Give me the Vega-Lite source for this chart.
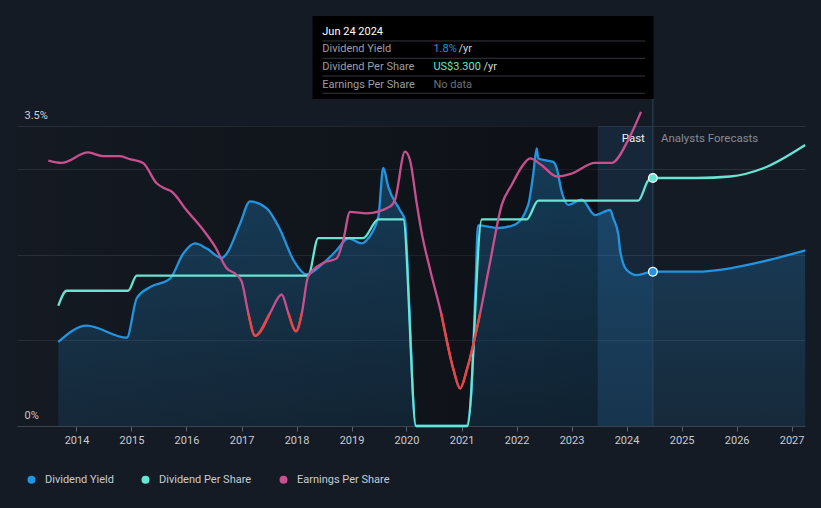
{
  "$schema": "https://vega.github.io/schema/vega-lite/v6.json",
  "width": 788,
  "height": 300,
  "autosize": "none",
  "padding": {"left": 17, "top": 126, "right": 16, "bottom": 82},
  "background": "#151b24",
  "config": {"view": {"stroke": null}, "font": "Roboto"},
  "datasets": {
    "series": [
      {"series": "Dividend Yield", "date": "2013-09-02", "value": 0.98},
      {"series": "Dividend Yield", "date": "2014-03-09", "value": 1.17},
      {"series": "Dividend Yield", "date": "2014-12-01", "value": 1.03},
      {"series": "Dividend Yield", "date": "2015-02-05", "value": 1.49},
      {"series": "Dividend Yield", "date": "2015-05-04", "value": 1.62},
      {"series": "Dividend Yield", "date": "2015-09-14", "value": 1.72},
      {"series": "Dividend Yield", "date": "2015-12-10", "value": 2.01},
      {"series": "Dividend Yield", "date": "2016-02-27", "value": 2.13},
      {"series": "Dividend Yield", "date": "2016-05-15", "value": 2.07},
      {"series": "Dividend Yield", "date": "2016-08-22", "value": 1.96},
      {"series": "Dividend Yield", "date": "2016-09-24", "value": 2.01},
      {"series": "Dividend Yield", "date": "2016-12-22", "value": 2.36},
      {"series": "Dividend Yield", "date": "2017-02-26", "value": 2.62},
      {"series": "Dividend Yield", "date": "2017-06-17", "value": 2.54},
      {"series": "Dividend Yield", "date": "2017-09-14", "value": 2.29},
      {"series": "Dividend Yield", "date": "2017-12-10", "value": 1.94},
      {"series": "Dividend Yield", "date": "2018-03-09", "value": 1.77},
      {"series": "Dividend Yield", "date": "2018-06-28", "value": 1.9},
      {"series": "Dividend Yield", "date": "2018-09-24", "value": 2.05},
      {"series": "Dividend Yield", "date": "2018-12-10", "value": 2.19},
      {"series": "Dividend Yield", "date": "2019-03-09", "value": 2.13},
      {"series": "Dividend Yield", "date": "2019-04-22", "value": 2.19},
      {"series": "Dividend Yield", "date": "2019-06-28", "value": 2.44},
      {"series": "Dividend Yield", "date": "2019-07-31", "value": 3.01},
      {"series": "Dividend Yield", "date": "2019-09-02", "value": 2.79},
      {"series": "Dividend Yield", "date": "2019-11-18", "value": 2.52},
      {"series": "Dividend Yield", "date": "2019-12-22", "value": 2.4},
      {"series": "Dividend Yield", "date": "2020-01-18", "value": 1.47},
      {"series": "Dividend Yield", "date": "2020-03-01", "value": 0},
      {"series": "Dividend Yield", "date": "2021-01-31", "value": 0},
      {"series": "Dividend Yield", "date": "2021-03-05", "value": 0.34},
      {"series": "Dividend Yield", "date": "2021-04-01", "value": 1.51},
      {"series": "Dividend Yield", "date": "2021-04-20", "value": 2.34},
      {"series": "Dividend Yield", "date": "2021-08-31", "value": 2.31},
      {"series": "Dividend Yield", "date": "2021-12-22", "value": 2.35},
      {"series": "Dividend Yield", "date": "2022-03-19", "value": 2.58},
      {"series": "Dividend Yield", "date": "2022-04-21", "value": 2.93},
      {"series": "Dividend Yield", "date": "2022-05-15", "value": 3.24},
      {"series": "Dividend Yield", "date": "2022-05-25", "value": 3.12},
      {"series": "Dividend Yield", "date": "2022-09-02", "value": 3.08},
      {"series": "Dividend Yield", "date": "2022-09-24", "value": 3.01},
      {"series": "Dividend Yield", "date": "2022-10-28", "value": 2.73},
      {"series": "Dividend Yield", "date": "2022-12-10", "value": 2.58},
      {"series": "Dividend Yield", "date": "2023-03-09", "value": 2.64},
      {"series": "Dividend Yield", "date": "2023-06-06", "value": 2.46},
      {"series": "Dividend Yield", "date": "2023-09-14", "value": 2.52},
      {"series": "Dividend Yield", "date": "2023-10-06", "value": 2.42},
      {"series": "Dividend Yield", "date": "2023-11-08", "value": 2.23},
      {"series": "Dividend Yield", "date": "2023-11-19", "value": 2.05},
      {"series": "Dividend Yield", "date": "2024-01-02", "value": 1.82},
      {"series": "Dividend Yield", "date": "2024-03-09", "value": 1.76},
      {"series": "Dividend Yield", "date": "2024-06-24", "value": 1.8},
      {"series": "Dividend Yield", "date": "2025-04-12", "value": 1.8},
      {"series": "Dividend Yield", "date": "2025-11-19", "value": 1.84},
      {"series": "Dividend Yield", "date": "2026-06-27", "value": 1.92},
      {"series": "Dividend Yield", "date": "2027-04-01", "value": 2.05},

      {"series": "Dividend Per Share", "date": "2013-09-02", "value": 1.6},
      {"series": "Dividend Per Share", "date": "2013-10-28", "value": 1.8},
      {"series": "Dividend Per Share", "date": "2014-12-10", "value": 1.8},
      {"series": "Dividend Per Share", "date": "2015-02-05", "value": 2.0},
      {"series": "Dividend Per Share", "date": "2018-03-19", "value": 2.0},
      {"series": "Dividend Per Share", "date": "2018-05-25", "value": 2.5},
      {"series": "Dividend Per Share", "date": "2019-03-19", "value": 2.5},
      {"series": "Dividend Per Share", "date": "2019-06-28", "value": 2.75},
      {"series": "Dividend Per Share", "date": "2019-12-10", "value": 2.75},
      {"series": "Dividend Per Share", "date": "2020-03-05", "value": 0},
      {"series": "Dividend Per Share", "date": "2021-02-09", "value": 0},
      {"series": "Dividend Per Share", "date": "2021-05-15", "value": 2.75},
      {"series": "Dividend Per Share", "date": "2022-03-09", "value": 2.75},
      {"series": "Dividend Per Share", "date": "2022-05-25", "value": 3.0},
      {"series": "Dividend Per Share", "date": "2024-03-19", "value": 3.0},
      {"series": "Dividend Per Share", "date": "2024-05-25", "value": 3.27},
      {"series": "Dividend Per Share", "date": "2024-06-24", "value": 3.3},
      {"series": "Dividend Per Share", "date": "2025-04-12", "value": 3.3},
      {"series": "Dividend Per Share", "date": "2025-11-19", "value": 3.32},
      {"series": "Dividend Per Share", "date": "2026-06-27", "value": 3.43},
      {"series": "Dividend Per Share", "date": "2027-04-01", "value": 3.74},

      {"series": "Earnings Per Share", "date": "2013-06-28", "value": 3.53},
      {"series": "Earnings Per Share", "date": "2013-09-24", "value": 3.5},
      {"series": "Earnings Per Share", "date": "2014-03-19", "value": 3.64},
      {"series": "Earnings Per Share", "date": "2014-06-28", "value": 3.59},
      {"series": "Earnings Per Share", "date": "2014-10-17", "value": 3.59},
      {"series": "Earnings Per Share", "date": "2014-12-22", "value": 3.55},
      {"series": "Earnings Per Share", "date": "2015-03-19", "value": 3.5},
      {"series": "Earnings Per Share", "date": "2015-06-17", "value": 3.23},
      {"series": "Earnings Per Share", "date": "2015-08-11", "value": 3.16},
      {"series": "Earnings Per Share", "date": "2015-09-24", "value": 3.12},
      {"series": "Earnings Per Share", "date": "2016-01-02", "value": 2.87},
      {"series": "Earnings Per Share", "date": "2016-04-21", "value": 2.61},
      {"series": "Earnings Per Share", "date": "2016-07-08", "value": 2.39},
      {"series": "Earnings Per Share", "date": "2016-09-24", "value": 2.1},
      {"series": "Earnings Per Share", "date": "2016-11-30", "value": 2.01},
      {"series": "Earnings Per Share", "date": "2017-01-02", "value": 1.92},
      {"series": "Earnings Per Share", "date": "2017-02-15", "value": 1.5, "dip": "a"},
      {"series": "Earnings Per Share", "date": "2017-04-01", "value": 1.2, "dip": "a"},
      {"series": "Earnings Per Share", "date": "2017-07-08", "value": 1.5, "dip": "a"},
      {"series": "Earnings Per Share", "date": "2017-09-24", "value": 1.75},
      {"series": "Earnings Per Share", "date": "2017-11-08", "value": 1.5, "dip": "b"},
      {"series": "Earnings Per Share", "date": "2017-12-29", "value": 1.26, "dip": "b"},
      {"series": "Earnings Per Share", "date": "2018-02-05", "value": 1.5, "dip": "b"},
      {"series": "Earnings Per Share", "date": "2018-03-19", "value": 1.99},
      {"series": "Earnings Per Share", "date": "2018-06-28", "value": 2.17},
      {"series": "Earnings Per Share", "date": "2018-09-24", "value": 2.23},
      {"series": "Earnings Per Share", "date": "2018-11-08", "value": 2.48},
      {"series": "Earnings Per Share", "date": "2018-12-22", "value": 2.85},
      {"series": "Earnings Per Share", "date": "2019-04-12", "value": 2.83},
      {"series": "Earnings Per Share", "date": "2019-09-14", "value": 2.92},
      {"series": "Earnings Per Share", "date": "2019-10-17", "value": 3.01},
      {"series": "Earnings Per Share", "date": "2019-12-22", "value": 3.65},
      {"series": "Earnings Per Share", "date": "2020-01-24", "value": 3.54},
      {"series": "Earnings Per Share", "date": "2020-03-09", "value": 2.96},
      {"series": "Earnings Per Share", "date": "2020-04-12", "value": 2.56},
      {"series": "Earnings Per Share", "date": "2020-06-06", "value": 2.08},
      {"series": "Earnings Per Share", "date": "2020-08-18", "value": 1.5, "dip": "c"},
      {"series": "Earnings Per Share", "date": "2020-11-08", "value": 0.75, "dip": "c"},
      {"series": "Earnings Per Share", "date": "2020-12-22", "value": 0.5, "dip": "c"},
      {"series": "Earnings Per Share", "date": "2021-02-05", "value": 0.75, "dip": "c"},
      {"series": "Earnings Per Share", "date": "2021-05-04", "value": 1.5, "dip": "c"},
      {"series": "Earnings Per Share", "date": "2021-07-08", "value": 2.17},
      {"series": "Earnings Per Share", "date": "2021-09-24", "value": 2.94},
      {"series": "Earnings Per Share", "date": "2021-11-30", "value": 3.21},
      {"series": "Earnings Per Share", "date": "2022-02-05", "value": 3.45},
      {"series": "Earnings Per Share", "date": "2022-04-01", "value": 3.56},
      {"series": "Earnings Per Share", "date": "2022-06-17", "value": 3.47},
      {"series": "Earnings Per Share", "date": "2022-09-24", "value": 3.32},
      {"series": "Earnings Per Share", "date": "2023-01-02", "value": 3.36},
      {"series": "Earnings Per Share", "date": "2023-06-06", "value": 3.5},
      {"series": "Earnings Per Share", "date": "2023-09-24", "value": 3.5},
      {"series": "Earnings Per Share", "date": "2024-01-13", "value": 3.81},
      {"series": "Earnings Per Share", "date": "2024-04-06", "value": 4.18}
    ]
  },
  "data": {"name": "series"},
  "layer": [
    {
      "layer": [
        {
          "data": {"values": [{}]},
          "mark": {"type": "rect", "fill": {"gradient": "linear", "x1": 0, "y1": 0, "x2": 1, "y2": 0, "stops": [{"offset": 0, "color": "rgba(0,0,0,0.05)"}, {"offset": 1, "color": "rgba(0,0,0,0.38)"}]}},
          "encoding": {
            "x": {"datum": {"year": 2012, "month": 12, "date": 2}, "type": "temporal", "scale": {"domain": [{"year": 2012, "month": 12, "date": 2}, {"year": 2027, "month": 3, "date": 31}]}, "title": null},
            "x2": {"datum": {"year": 2023, "month": 6, "date": 24}},
            "y": {"datum": 3.5, "type": "quantitative", "scale": {"domain": [0, 3.5]}, "title": null},
            "y2": {"datum": 0}
          }
        },
        {
          "data": {"values": [{}]},
          "mark": {"type": "rect", "color": "#1f5a90", "opacity": 0.2},
          "encoding": {
            "x": {"datum": {"year": 2023, "month": 6, "date": 24}, "type": "temporal", "scale": {"domain": [{"year": 2012, "month": 12, "date": 2}, {"year": 2027, "month": 3, "date": 31}]}, "title": null},
            "x2": {"datum": {"year": 2024, "month": 6, "date": 24}},
            "y": {"datum": 3.5, "type": "quantitative", "scale": {"domain": [0, 3.5]}, "title": null},
            "y2": {"datum": 0}
          }
        },
        {
          "transform": [{"filter": {"field": "series", "equal": "Dividend Yield"}}],
          "mark": {"type": "area", "interpolate": "monotone", "fill": {"gradient": "linear", "x1": 0, "y1": 1, "x2": 0, "y2": 0, "stops": [{"offset": 0, "color": "rgba(35,148,224,0.12)"}, {"offset": 1, "color": "rgba(35,148,224,0.32)"}]}},
          "encoding": {
            "x": {
              "field": "date", "type": "temporal", "title": null,
              "scale": {"domain": [{"year": 2012, "month": 12, "date": 2}, {"year": 2027, "month": 3, "date": 31}]},
              "axis": {
                "values": [{"year": 2014, "month": 1, "date": 1}, {"year": 2015, "month": 1, "date": 1}, {"year": 2016, "month": 1, "date": 1}, {"year": 2017, "month": 1, "date": 1}, {"year": 2018, "month": 1, "date": 1}, {"year": 2019, "month": 1, "date": 1}, {"year": 2020, "month": 1, "date": 1}, {"year": 2021, "month": 1, "date": 1}, {"year": 2022, "month": 1, "date": 1}, {"year": 2023, "month": 1, "date": 1}, {"year": 2024, "month": 1, "date": 1}, {"year": 2025, "month": 1, "date": 1}, {"year": 2026, "month": 1, "date": 1}, {"year": 2027, "month": 1, "date": 1}],
                "format": "%Y", "grid": false, "domainColor": "#3c4350", "tickColor": "#5b6370", "tickSize": 5,
                "labelColor": "#c8ccd2", "labelFontSize": 11, "labelFont": "Roboto", "labelPadding": 3, "labelFlush": false
              }
            },
            "y": {
              "field": "value", "type": "quantitative", "title": null,
              "scale": {"domain": [0, 3.5]},
              "axis": {
                "values": [0, 1, 2, 3, 3.5],
                "labelExpr": "datum.value == 0 ? '0%' : datum.value == 3.5 ? '3.5%' : ''",
                "grid": true, "gridColor": "#2b3039", "domain": false, "ticks": false, "tickSize": 0,
                "labelAlign": "left", "labelBaseline": "alphabetic", "labelPadding": -7, "labelOffset": -8,
                "labelColor": "#d0d4d8", "labelFontSize": 11, "labelFont": "Roboto"
              }
            }
          }
        },
        {
          "transform": [{"filter": {"field": "series", "equal": "Dividend Yield"}}],
          "mark": {"type": "line", "interpolate": "monotone", "strokeWidth": 2.3, "color": "#2394e0"},
          "encoding": {
            "x": {"field": "date", "type": "temporal", "title": null, "scale": {"domain": [{"year": 2012, "month": 12, "date": 2}, {"year": 2027, "month": 3, "date": 31}]}},
            "y": {"field": "value", "type": "quantitative", "title": null, "scale": {"domain": [0, 3.5]}}
          }
        },
        {
          "data": {"values": [{}]},
          "mark": {"type": "rule", "color": "#2a4660", "strokeWidth": 1},
          "encoding": {
            "x": {"datum": {"year": 2024, "month": 6, "date": 24}, "type": "temporal", "scale": {"domain": [{"year": 2012, "month": 12, "date": 2}, {"year": 2027, "month": 3, "date": 31}]}, "title": null},
            "y": {"datum": 3.815, "type": "quantitative", "scale": {"domain": [0, 3.5]}, "title": null},
            "y2": {"datum": 0}
          }
        },
        {
          "data": {"values": [{}]},
          "mark": {"type": "text", "text": "Past", "align": "right", "baseline": "alphabetic", "dx": -8, "fontSize": 11.5, "color": "#eef0f2"},
          "encoding": {
            "x": {"datum": {"year": 2024, "month": 6, "date": 24}, "type": "temporal", "scale": {"domain": [{"year": 2012, "month": 12, "date": 2}, {"year": 2027, "month": 3, "date": 31}]}, "title": null},
            "y": {"datum": 3.313, "type": "quantitative", "scale": {"domain": [0, 3.5]}, "title": null}
          }
        },
        {
          "data": {"values": [{}]},
          "mark": {"type": "text", "text": "Analysts Forecasts", "align": "left", "baseline": "alphabetic", "dx": 8, "fontSize": 11.5, "color": "#878c94"},
          "encoding": {
            "x": {"datum": {"year": 2024, "month": 6, "date": 24}, "type": "temporal", "scale": {"domain": [{"year": 2012, "month": 12, "date": 2}, {"year": 2027, "month": 3, "date": 31}]}, "title": null},
            "y": {"datum": 3.313, "type": "quantitative", "scale": {"domain": [0, 3.5]}, "title": null}
          }
        },
        {
          "data": {"values": [{}]},
          "mark": {"type": "rect", "color": "#000000"},
          "encoding": {
            "x": {"datum": {"year": 2018, "month": 4, "date": 17}, "type": "temporal", "scale": {"domain": [{"year": 2012, "month": 12, "date": 2}, {"year": 2027, "month": 3, "date": 31}]}, "title": null},
            "x2": {"datum": {"year": 2024, "month": 6, "date": 28}},
            "y": {"datum": 4.783, "type": "quantitative", "scale": {"domain": [0, 3.5]}, "title": null},
            "y2": {"datum": 3.815}
          }
        },
        {
          "data": {"values": [{}]},
          "mark": {"type": "rule", "color": "#34373c", "strokeWidth": 1},
          "encoding": {
            "x": {"datum": {"year": 2018, "month": 6, "date": 21}, "type": "temporal", "scale": {"domain": [{"year": 2012, "month": 12, "date": 2}, {"year": 2027, "month": 3, "date": 31}]}, "title": null},
            "x2": {"datum": {"year": 2024, "month": 5, "date": 4}},
            "y": {"datum": 4.492, "type": "quantitative", "scale": {"domain": [0, 3.5]}, "title": null}
          }
        },
        {
          "data": {"values": [{}]},
          "mark": {"type": "rule", "color": "#34373c", "strokeWidth": 1},
          "encoding": {
            "x": {"datum": {"year": 2018, "month": 6, "date": 21}, "type": "temporal", "scale": {"domain": [{"year": 2012, "month": 12, "date": 2}, {"year": 2027, "month": 3, "date": 31}]}, "title": null},
            "x2": {"datum": {"year": 2024, "month": 5, "date": 4}},
            "y": {"datum": 4.29, "type": "quantitative", "scale": {"domain": [0, 3.5]}, "title": null}
          }
        },
        {
          "data": {"values": [{}]},
          "mark": {"type": "rule", "color": "#34373c", "strokeWidth": 1},
          "encoding": {
            "x": {"datum": {"year": 2018, "month": 6, "date": 21}, "type": "temporal", "scale": {"domain": [{"year": 2012, "month": 12, "date": 2}, {"year": 2027, "month": 3, "date": 31}]}, "title": null},
            "x2": {"datum": {"year": 2024, "month": 5, "date": 4}},
            "y": {"datum": 4.083, "type": "quantitative", "scale": {"domain": [0, 3.5]}, "title": null}
          }
        },
        {
          "data": {"values": [{}]},
          "mark": {"type": "rule", "color": "#34373c", "strokeWidth": 1},
          "encoding": {
            "x": {"datum": {"year": 2018, "month": 6, "date": 21}, "type": "temporal", "scale": {"domain": [{"year": 2012, "month": 12, "date": 2}, {"year": 2027, "month": 3, "date": 31}]}, "title": null},
            "x2": {"datum": {"year": 2024, "month": 5, "date": 4}},
            "y": {"datum": 3.882, "type": "quantitative", "scale": {"domain": [0, 3.5]}, "title": null}
          }
        },
        {
          "data": {"values": [{}]},
          "mark": {"type": "text", "text": "Jun 24 2024", "align": "left", "baseline": "alphabetic", "fontSize": 11, "color": "#ffffff"},
          "encoding": {
            "x": {"datum": {"year": 2018, "month": 6, "date": 21}, "type": "temporal", "scale": {"domain": [{"year": 2012, "month": 12, "date": 2}, {"year": 2027, "month": 3, "date": 31}]}, "title": null},
            "y": {"datum": 4.56, "type": "quantitative", "scale": {"domain": [0, 3.5]}, "title": null}
          }
        },
        {
          "data": {"values": [{}]},
          "mark": {"type": "text", "text": "Dividend Yield", "align": "left", "baseline": "alphabetic", "fontSize": 11, "color": "#9a9ea5"},
          "encoding": {
            "x": {"datum": {"year": 2018, "month": 6, "date": 21}, "type": "temporal", "scale": {"domain": [{"year": 2012, "month": 12, "date": 2}, {"year": 2027, "month": 3, "date": 31}]}, "title": null},
            "y": {"datum": 4.36, "type": "quantitative", "scale": {"domain": [0, 3.5]}, "title": null}
          }
        },
        {
          "data": {"values": [{}]},
          "mark": {"type": "text", "text": "Dividend Per Share", "align": "left", "baseline": "alphabetic", "fontSize": 11, "color": "#9a9ea5"},
          "encoding": {
            "x": {"datum": {"year": 2018, "month": 6, "date": 21}, "type": "temporal", "scale": {"domain": [{"year": 2012, "month": 12, "date": 2}, {"year": 2027, "month": 3, "date": 31}]}, "title": null},
            "y": {"datum": 4.153, "type": "quantitative", "scale": {"domain": [0, 3.5]}, "title": null}
          }
        },
        {
          "data": {"values": [{}]},
          "mark": {"type": "text", "text": "Earnings Per Share", "align": "left", "baseline": "alphabetic", "fontSize": 11, "color": "#9a9ea5"},
          "encoding": {
            "x": {"datum": {"year": 2018, "month": 6, "date": 21}, "type": "temporal", "scale": {"domain": [{"year": 2012, "month": 12, "date": 2}, {"year": 2027, "month": 3, "date": 31}]}, "title": null},
            "y": {"datum": 3.947, "type": "quantitative", "scale": {"domain": [0, 3.5]}, "title": null}
          }
        },
        {
          "data": {"values": [{}]},
          "mark": {"type": "text", "text": "1.8%", "align": "left", "baseline": "alphabetic", "fontSize": 11, "color": "#2394e0"},
          "encoding": {
            "x": {"datum": {"year": 2020, "month": 6, "date": 28}, "type": "temporal", "scale": {"domain": [{"year": 2012, "month": 12, "date": 2}, {"year": 2027, "month": 3, "date": 31}]}, "title": null},
            "y": {"datum": 4.36, "type": "quantitative", "scale": {"domain": [0, 3.5]}, "title": null}
          }
        },
        {
          "data": {"values": [{}]},
          "mark": {"type": "text", "text": "/yr", "align": "left", "baseline": "alphabetic", "fontSize": 11, "dx": 25, "color": "#d6d8db"},
          "encoding": {
            "x": {"datum": {"year": 2020, "month": 6, "date": 28}, "type": "temporal", "scale": {"domain": [{"year": 2012, "month": 12, "date": 2}, {"year": 2027, "month": 3, "date": 31}]}, "title": null},
            "y": {"datum": 4.36, "type": "quantitative", "scale": {"domain": [0, 3.5]}, "title": null}
          }
        },
        {
          "data": {"values": [{}]},
          "mark": {"type": "text", "text": "US$3.300", "align": "left", "baseline": "alphabetic", "fontSize": 11, "color": "#66e6d2"},
          "encoding": {
            "x": {"datum": {"year": 2020, "month": 6, "date": 28}, "type": "temporal", "scale": {"domain": [{"year": 2012, "month": 12, "date": 2}, {"year": 2027, "month": 3, "date": 31}]}, "title": null},
            "y": {"datum": 4.153, "type": "quantitative", "scale": {"domain": [0, 3.5]}, "title": null}
          }
        },
        {
          "data": {"values": [{}]},
          "mark": {"type": "text", "text": "/yr", "align": "left", "baseline": "alphabetic", "fontSize": 11, "dx": 50, "color": "#d6d8db"},
          "encoding": {
            "x": {"datum": {"year": 2020, "month": 6, "date": 28}, "type": "temporal", "scale": {"domain": [{"year": 2012, "month": 12, "date": 2}, {"year": 2027, "month": 3, "date": 31}]}, "title": null},
            "y": {"datum": 4.153, "type": "quantitative", "scale": {"domain": [0, 3.5]}, "title": null}
          }
        },
        {
          "data": {"values": [{}]},
          "mark": {"type": "text", "text": "No data", "align": "left", "baseline": "alphabetic", "fontSize": 11, "color": "#6c7077"},
          "encoding": {
            "x": {"datum": {"year": 2020, "month": 6, "date": 28}, "type": "temporal", "scale": {"domain": [{"year": 2012, "month": 12, "date": 2}, {"year": 2027, "month": 3, "date": 31}]}, "title": null},
            "y": {"datum": 3.947, "type": "quantitative", "scale": {"domain": [0, 3.5]}, "title": null}
          }
        },
        {
          "transform": [
            {"filter": {"field": "series", "equal": "Dividend Yield"}},
            {"filter": {"field": "date", "equal": {"year": 2024, "month": 6, "date": 24, "utc": true}}}
          ],
          "mark": {"type": "point", "filled": true, "color": "#ffffff", "size": 100, "opacity": 1},
          "encoding": {
            "x": {"field": "date", "type": "temporal", "title": null, "scale": {"domain": [{"year": 2012, "month": 12, "date": 2}, {"year": 2027, "month": 3, "date": 31}]}},
            "y": {"field": "value", "type": "quantitative", "title": null, "scale": {"domain": [0, 3.5]}}
          }
        },
        {
          "transform": [
            {"filter": {"field": "series", "equal": "Dividend Yield"}},
            {"filter": {"field": "date", "equal": {"year": 2024, "month": 6, "date": 24, "utc": true}}}
          ],
          "mark": {"type": "point", "filled": true, "size": 55, "opacity": 1},
          "encoding": {
            "x": {"field": "date", "type": "temporal", "title": null, "scale": {"domain": [{"year": 2012, "month": 12, "date": 2}, {"year": 2027, "month": 3, "date": 31}]}},
            "y": {"field": "value", "type": "quantitative", "title": null, "scale": {"domain": [0, 3.5]}},
            "fill": {
              "field": "series", "type": "nominal",
              "scale": {"domain": ["Dividend Yield", "Dividend Per Share", "Earnings Per Share"], "range": ["#2394e0", "#66e6d2", "#c9508e"]},
              "legend": {"orient": "none", "legendX": 9, "legendY": 348, "direction": "horizontal", "title": null, "symbolType": "circle", "symbolSize": 64, "labelFont": "Roboto", "labelFontSize": 11, "labelColor": "#c8ccd2", "columnPadding": 26, "labelOffset": 8}
            }
          }
        }
      ]
    },
    {
      "layer": [
        {
          "transform": [{"filter": {"field": "series", "equal": "Dividend Per Share"}}],
          "mark": {"type": "line", "interpolate": "monotone", "strokeWidth": 2.3, "color": "#66e6d2"},
          "encoding": {
            "x": {"field": "date", "type": "temporal", "title": null, "scale": {"domain": [{"year": 2012, "month": 12, "date": 2}, {"year": 2027, "month": 3, "date": 31}]}},
            "y": {"field": "value", "type": "quantitative", "title": null, "scale": {"domain": [0, 3.992]}, "axis": null}
          }
        },
        {
          "transform": [{"filter": {"field": "series", "equal": "Earnings Per Share"}}],
          "mark": {"type": "line", "interpolate": "monotone", "strokeWidth": 2.3, "color": "#c9508e"},
          "encoding": {
            "x": {"field": "date", "type": "temporal", "title": null, "scale": {"domain": [{"year": 2012, "month": 12, "date": 2}, {"year": 2027, "month": 3, "date": 31}]}},
            "y": {"field": "value", "type": "quantitative", "title": null, "scale": {"domain": [0, 3.992]}, "axis": null}
          }
        },
        {
          "transform": [{"filter": "isValid(datum.dip)"}],
          "mark": {"type": "line", "interpolate": "monotone", "strokeWidth": 2.3, "color": "#e5483f"},
          "encoding": {
            "x": {"field": "date", "type": "temporal", "title": null, "scale": {"domain": [{"year": 2012, "month": 12, "date": 2}, {"year": 2027, "month": 3, "date": 31}]}},
            "y": {"field": "value", "type": "quantitative", "title": null, "scale": {"domain": [0, 3.992]}, "axis": null},
            "detail": {"field": "dip", "type": "nominal"}
          }
        },
        {
          "transform": [
            {"filter": {"field": "series", "equal": "Dividend Per Share"}},
            {"filter": {"field": "date", "equal": {"year": 2024, "month": 6, "date": 24, "utc": true}}}
          ],
          "mark": {"type": "point", "filled": true, "color": "#ffffff", "size": 100, "opacity": 1},
          "encoding": {
            "x": {"field": "date", "type": "temporal", "title": null, "scale": {"domain": [{"year": 2012, "month": 12, "date": 2}, {"year": 2027, "month": 3, "date": 31}]}},
            "y": {"field": "value", "type": "quantitative", "title": null, "scale": {"domain": [0, 3.992]}, "axis": null}
          }
        },
        {
          "transform": [
            {"filter": {"field": "series", "equal": "Dividend Per Share"}},
            {"filter": {"field": "date", "equal": {"year": 2024, "month": 6, "date": 24, "utc": true}}}
          ],
          "mark": {"type": "point", "filled": true, "size": 55, "opacity": 1},
          "encoding": {
            "x": {"field": "date", "type": "temporal", "title": null, "scale": {"domain": [{"year": 2012, "month": 12, "date": 2}, {"year": 2027, "month": 3, "date": 31}]}},
            "y": {"field": "value", "type": "quantitative", "title": null, "scale": {"domain": [0, 3.992]}, "axis": null},
            "fill": {
              "field": "series", "type": "nominal",
              "scale": {"domain": ["Dividend Yield", "Dividend Per Share", "Earnings Per Share"], "range": ["#2394e0", "#66e6d2", "#c9508e"]},
              "legend": {"orient": "none", "legendX": 9, "legendY": 348, "direction": "horizontal", "title": null, "symbolType": "circle", "symbolSize": 64, "labelFont": "Roboto", "labelFontSize": 11, "labelColor": "#c8ccd2", "columnPadding": 26, "labelOffset": 8}
            }
          }
        }
      ]
    }
  ],
  "resolve": {"scale": {"y": "independent"}}
}
